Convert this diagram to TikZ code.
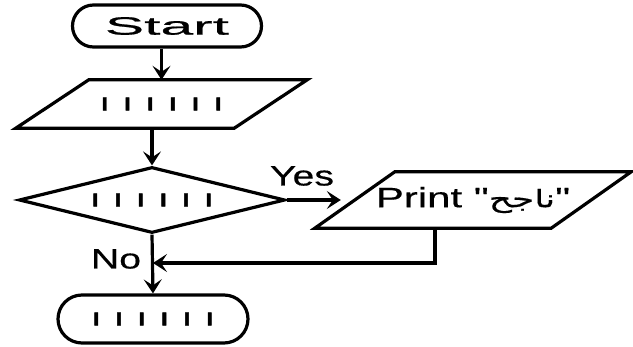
\documentclass[tikz,border=0pt]{standalone}
\usepackage{fontspec}
\usetikzlibrary{shapes.geometric,shapes.misc,arrows.meta}
\TeXXeTstate=1
\setmainfont{Liberation Sans}
\newfontfamily\startfont[FakeStretch=2.35,FakeBold=0.8]{Liberation Sans}
\newfontfamily\labfont[FakeStretch=1.4,FakeBold=0.5]{Liberation Sans}
\newfontfamily\prfont[FakeStretch=1.5,FakeBold=0.5]{Liberation Sans}
\newfontfamily\arabicfont[Script=Arabic,FakeStretch=1.5,FakeBold=0.5]{DejaVu Sans}
\newfontfamily\tickfont[FakeBold=2]{Liberation Sans Bold}
\newcommand\tickrow{{\tickfont\fontsize{24}{26}\selectfont ı\hspace{16pt}ı\hspace{16pt}ı\hspace{16pt}ı\hspace{16pt}ı\hspace{16pt}ı}}
\begin{document}
\begin{tikzpicture}[x=1pt,y=-1pt,
  lw/.style={line width=3.2pt},
  term/.style={rounded rectangle, draw, lw, inner sep=0pt},
  slot/.style={inner sep=0pt},
  shp/.style={draw, lw, line join=miter},
  arr/.style={lw, -{Stealth[length=14pt,width=18pt,inset=6pt]}},
  lab/.style={inner sep=0pt, font=\labfont\fontsize{28}{30}\selectfont}]
\useasboundingbox (0,0) rectangle (633,347);
% start
\node[term, minimum width=189pt, minimum height=42pt, font=\startfont\fontsize{25}{27}\selectfont] (start) at (167,26) {Start};
% input parallelogram
\node[slot, minimum width=218pt, minimum height=48pt] (inp) at (161.5,104) {\tickrow};
\draw[shp] ([xshift=36.5pt]inp.north west) -- ([xshift=36.5pt]inp.north east)
  -- ([xshift=-36.5pt]inp.south east) -- ([xshift=-36.5pt]inp.south west) -- cycle;
% decision
\node[diamond, draw, lw, aspect=4, inner sep=0pt, minimum width=266pt, minimum height=66pt] (dec) at (152,200) {\tickrow};
% print parallelogram
\node[slot, minimum width=236pt, minimum height=56pt] (pr) at (473,200)
  {\prfont\fontsize{28}{30}\selectfont Print "{\arabicfont\fontsize{24}{26}\selectfont\beginR ناجح\endR}"};
\draw[shp] ([xshift=40pt]pr.north west) -- ([xshift=40pt]pr.north east)
  -- ([xshift=-40pt]pr.south east) -- ([xshift=-40pt]pr.south west) -- cycle;
% end
\node[term, minimum width=190pt, minimum height=48pt] (end) at (153,319) {\tickrow};
% connectors
\draw[arr] (inp.north |- start.south) -- (inp.north);
\draw[arr] (dec.north |- inp.south) -- (dec.north);
\draw[arr, shorten >=14pt] (dec.east) -- (pr.west);
\coordinate (ret) at (153,263);
\draw[arr] ([xshift=-38pt]pr.south) |- (ret);
\draw[arr] (dec.south) -- (end.north);
% labels
\node[lab] (yes) at (302,176) {Yes};
\node[lab] (no) at (116,259) {No};
\end{tikzpicture}
\end{document}
